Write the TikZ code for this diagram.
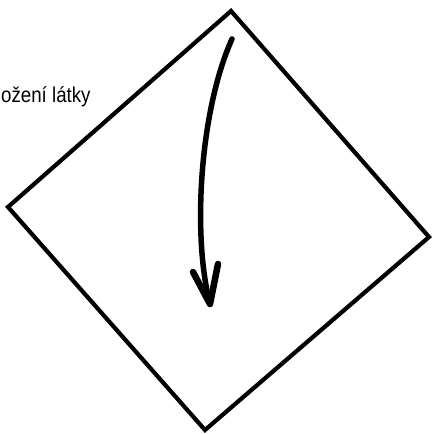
\documentclass[tikz,border=0pt]{standalone}
\usepackage{fontspec}
\setmainfont{Liberation Sans}
\usetikzlibrary{calc}
\tikzset{
  rim/.style={black, line width=4.2pt, line join=miter},
  flow/.style={black, line width=5.5pt, line cap=round},
  barb/.style={black, line width=6.5pt, line cap=round, line join=round},
  lbl/.style={font=\fontsize{21.5}{24}\selectfont, anchor=base west, inner sep=0pt, xscale=0.87},
}
\begin{document}
\begin{tikzpicture}[x=1pt,y=-1pt]
  \useasboundingbox (0,0) rectangle (434,434);
  % corners of the tilted square
  \coordinate (top) at (231,11);
  \coordinate (rgt) at (429,237);
  \coordinate (bot) at (205,430);
  \coordinate (lft) at (8,207);
  \draw[rim] (top) -- (rgt) -- (bot) -- (lft) -- cycle;
  % curved arrow
  \coordinate (src) at (232,39);
  \coordinate (tip) at (210,304);
  \draw[flow] (src) .. controls (200,110) and (192,235) .. (tip);
  \draw[barb] (193,272) -- (tip) -- (218,264);
  \node[lbl] (name) at (1,102) {ožení látky};
\end{tikzpicture}
\end{document}
